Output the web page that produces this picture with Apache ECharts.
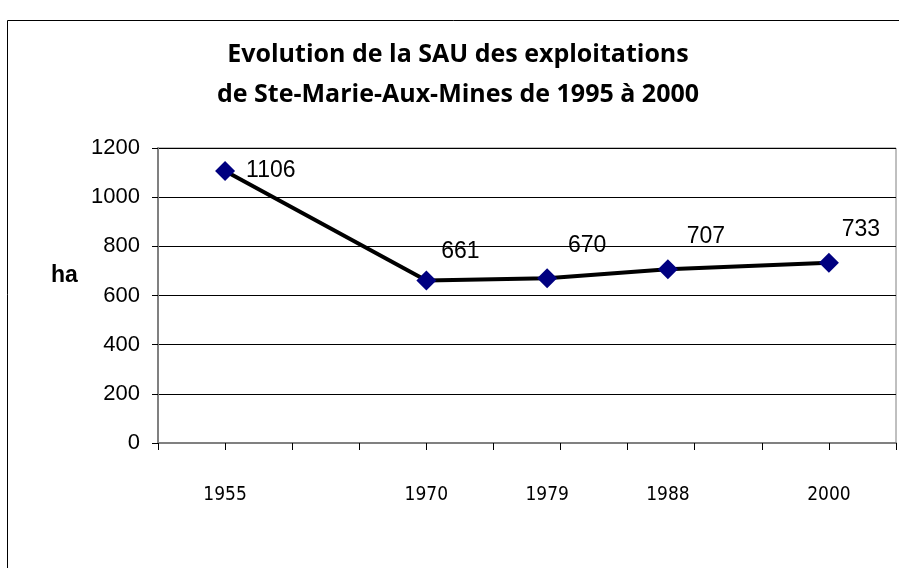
<!DOCTYPE html>
<html>
<head>
<meta charset="utf-8">
<script src="https://cdn.jsdelivr.net/npm/echarts@6/dist/echarts.min.js"></script>
<style>
  html, body { margin: 0; padding: 0; background: #fff; }
  #chart { width: 899px; height: 568px; }
</style>
</head>
<body>
<div id="chart"></div>
<script>
// Data
const years = [1955, 1970, 1979, 1988, 2000];
const surface = [1106, 661, 670, 707, 733];
const titleLines = ['Evolution de la SAU des exploitations', 'de Ste-Marie-Aux-Mines de 1995 à 2000'];

// label placement per point (first one sits right of the marker)
const labelOffsets = [[0, 0], [34, -29], [40, -33], [38, -33], [32, -33]];

function buildPoints() {
  return years.map((y, i) => {
    const item = { value: [y, surface[i]] };
    if (i === 0) {
      item.label = { position: 'right', distance: 11 };
    } else {
      item.label = { position: 'inside', offset: labelOffsets[i] };
    }
    return item;
  });
}

const chartElement = document.getElementById('chart');
const chart = echarts.init(chartElement, null, { renderer: 'canvas' });

chart.setOption({
  animation: false,
  backgroundColor: '#fff',
  title: {
    text: titleLines.join('\n'),
    left: 458,
    top: 35,
    padding: 0,
    textAlign: 'center',
    textStyle: {
      fontFamily: 'Open Sans',
      fontWeight: 'bold',
      fontSize: 25,
      lineHeight: 40,
      color: '#000'
    }
  },
  graphic: [
    {
      type: 'rect',
      shape: { x: 7.5, y: 20.5, width: 1000, height: 700 },
      style: { fill: null, stroke: '#000', lineWidth: 1 },
      silent: true
    },
    {
      type: 'text',
      x: 51,
      y: 276,
      style: {
        text: 'ha',
        font: 'bold 23px "Liberation Sans"',
        fill: '#000',
        verticalAlign: 'middle'
      }
    }
  ],
  grid: {
    left: 158,
    right: 3,
    top: 148,
    bottom: 125,
    show: true,
    borderColor: '#808080',
    borderWidth: 1
  },
  xAxis: {
    type: 'value',
    min: 1950,
    max: 2005,
    interval: 5,
    axisLine: { show: true, lineStyle: { color: '#808080', width: 2 } },
    axisTick: { show: true, length: 7, lineStyle: { color: '#000' } },
    splitLine: { show: false },
    axisLabel: {
      customValues: years,
      margin: 43,
      fontFamily: '"Liberation Sans Narrow", "DejaVu Sans Condensed", sans-serif',
      fontSize: 19,
      color: '#000',
      formatter: v => String(v)
    }
  },
  yAxis: {
    type: 'value',
    min: 0,
    max: 1200,
    interval: 200,
    axisLine: { show: true, lineStyle: { color: '#808080', width: 2 } },
    axisTick: { show: true, length: 6, lineStyle: { color: '#000' } },
    splitLine: { show: true, lineStyle: { color: '#000', width: 1 } },
    axisLabel: {
      margin: 18,
      fontFamily: '"Liberation Sans", Arial, sans-serif',
      fontSize: 22,
      color: '#000',
      formatter: v => String(v)
    }
  },
  series: [
    {
      type: 'line',
      data: buildPoints(),
      symbol: 'diamond',
      symbolSize: 20,
      lineStyle: { color: '#000', width: 4 },
      itemStyle: { color: '#000080' },
      z: 3,
      label: {
        show: true,
        formatter: p => String(p.value[1]),
        fontFamily: '"Liberation Sans", Arial, sans-serif',
        fontSize: 23,
        color: '#000'
      }
    }
  ]
});
</script>
</body>
</html>
